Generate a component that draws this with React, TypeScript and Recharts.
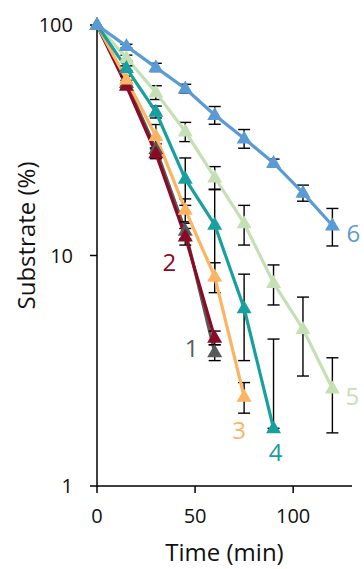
import { LineChart, Line, XAxis, YAxis, ErrorBar, Label } from 'recharts';

// time points (min)
const times = [0, 15, 30, 45, 60, 75, 90, 105, 120];

// substrate remaining (%), one array per condition
const s1 = [100, 56, 29, 12.8, 3.8];
const s2 = [100, 54.5, 27.8, 12.1, 4.4];
const s3 = [100, 58, 33, 15.8, 8.1, 2.44];
const s4 = [100, 65, 42, 21.5, 13.6, 5.9, 1.78];
const s5 = [100, 72, 51, 34.5, 21.8, 13.8, 7.6, 4.8, 2.65];
const s6 = [100, 81, 65.5, 53, 40.7, 32.2, 25.2, 18.7, 13.5];

// error bars (same units), [low, high] where one side is missing
const e1 = [0, 1.5, 1.5, 1, 0.3];
const e2 = [0, 1.5, 1.5, 1, 0.3];
const e3 = [0, 2, 4, 1.8, 1.2, 0.37];
const e4: (number | number[])[] = [0, 1.5, 2.5, 5, 5.8, 2.4, [0, 2.56]];
const e5 = [0, 2, 3.5, 3.3, 2.5, 2.7, 1.5, 1.8, 0.95];
const e6 = [0, 1.5, 2.7, 2.3, 3.6, 3, 1, 1.5, 2.5];

const xTicks = [0, 50, 100];
const yTicks = [1, 10, 100];

const FONT = '"Open Sans", sans-serif';

const values = [s1, s2, s3, s4, s5, s6];
const errors = [e1, e2, e3, e4, e5, e6];

const data = times.map((t, i) => {
    const row: Record<string, any> = { t };
    values.forEach((v, k) => {
        row[`s${k + 1}`] = v[i] ?? null;
        const e = errors[k][i];
        row[`e${k + 1}`] = e === undefined || e === 0 ? null : e;
    });
    return row;
});

// drawing order + look of each series; label sits next to one of its points
const series = [
    { n: 1, color: '#595959', labelAt: 4, dx: -23, dy: -5 },
    { n: 2, color: '#8B0A26', labelAt: 3, dx: -16, dy: 25 },
    { n: 3, color: '#FDB462', labelAt: 5, dx: -5, dy: 33 },
    { n: 5, color: '#C5E0B4', labelAt: 8, dx: 20, dy: 7 },
    { n: 4, color: '#18A0A0', labelAt: 6, dx: 2, dy: 23 },
    { n: 6, color: '#5B9BD5', labelAt: 8, dx: 21, dy: 7 },
];

const Tri = (props: any) => {
    const { cx, cy, value, index, color, labelAt, text, dx, dy } = props;
    if (cx == null || cy == null || value == null) return <g />;
    return (
        <g>
            <polygon points={`${cx},${cy - 8} ${cx - 7.5},${cy + 5} ${cx + 7.5},${cy + 5}`} fill={color} />
            {index === labelAt && (
                <text x={cx + dx} y={cy + dy} fill={color} fontSize={24} fontFamily={FONT}
                      textAnchor="middle" dominantBaseline="central">{text}</text>
            )}
        </g>
    );
};

export default function App() {
    return (
        <div style={{ position: 'absolute', left: 0, top: 0 }}>
            <LineChart width={364} height={569} data={data} margin={{ top: 25, right: 12, bottom: 0, left: 0 }}>
                <XAxis dataKey="t" type="number" domain={[0, 130]} ticks={xTicks}
                       axisLine={{ stroke: '#000', strokeWidth: 1.5 }} tickLine={{ stroke: '#000', strokeWidth: 1.5 }}
                       tickSize={7} tickMargin={16} height={83}
                       tick={{ fill: '#111', fontSize: 20, fontFamily: FONT }}>
                    <Label content={(p: any) => {
                        const vb = p.viewBox;
                        return <text x={vb.x + vb.width / 2} y={vb.y + vb.height - 8} textAnchor="middle"
                                     fontSize={24} fontFamily={FONT} fill="#111">Time (min)</text>;
                    }} />
                </XAxis>
                <YAxis scale="log" domain={[1, 100]} ticks={yTicks} width={97}
                       axisLine={{ stroke: '#000', strokeWidth: 1.5 }} tickLine={{ stroke: '#000', strokeWidth: 1.5 }}
                       tickSize={7} tickMargin={17}
                       tick={{ fill: '#111', fontSize: 20, fontFamily: FONT }}>
                    <Label content={(p: any) => {
                        const vb = p.viewBox;
                        const x = vb.x + 25;
                        const y = vb.y + vb.height / 2 - 20;
                        return <text x={x} y={y} transform={`rotate(-90 ${x} ${y})`} textAnchor="middle"
                                     dominantBaseline="central" fontSize={24} fontFamily={FONT} fill="#111">Substrate (%)</text>;
                    }} />
                </YAxis>
                {series.map(s => (
                    <Line key={s.n} dataKey={`s${s.n}`} stroke={s.color} strokeWidth={3.2} type="linear"
                          isAnimationActive={false} connectNulls={false} activeDot={false}
                          dot={(p: any) => <Tri key={`d${s.n}-${p.index}`} {...p} color={s.color} labelAt={s.labelAt}
                                               text={String(s.n)} dx={s.dx} dy={s.dy} />}>
                        <ErrorBar dataKey={`e${s.n}`} width={6} stroke="#000" strokeWidth={1.4} direction="y"
                                  isAnimationActive={false} />
                    </Line>
                ))}
            </LineChart>
        </div>
    );
}
